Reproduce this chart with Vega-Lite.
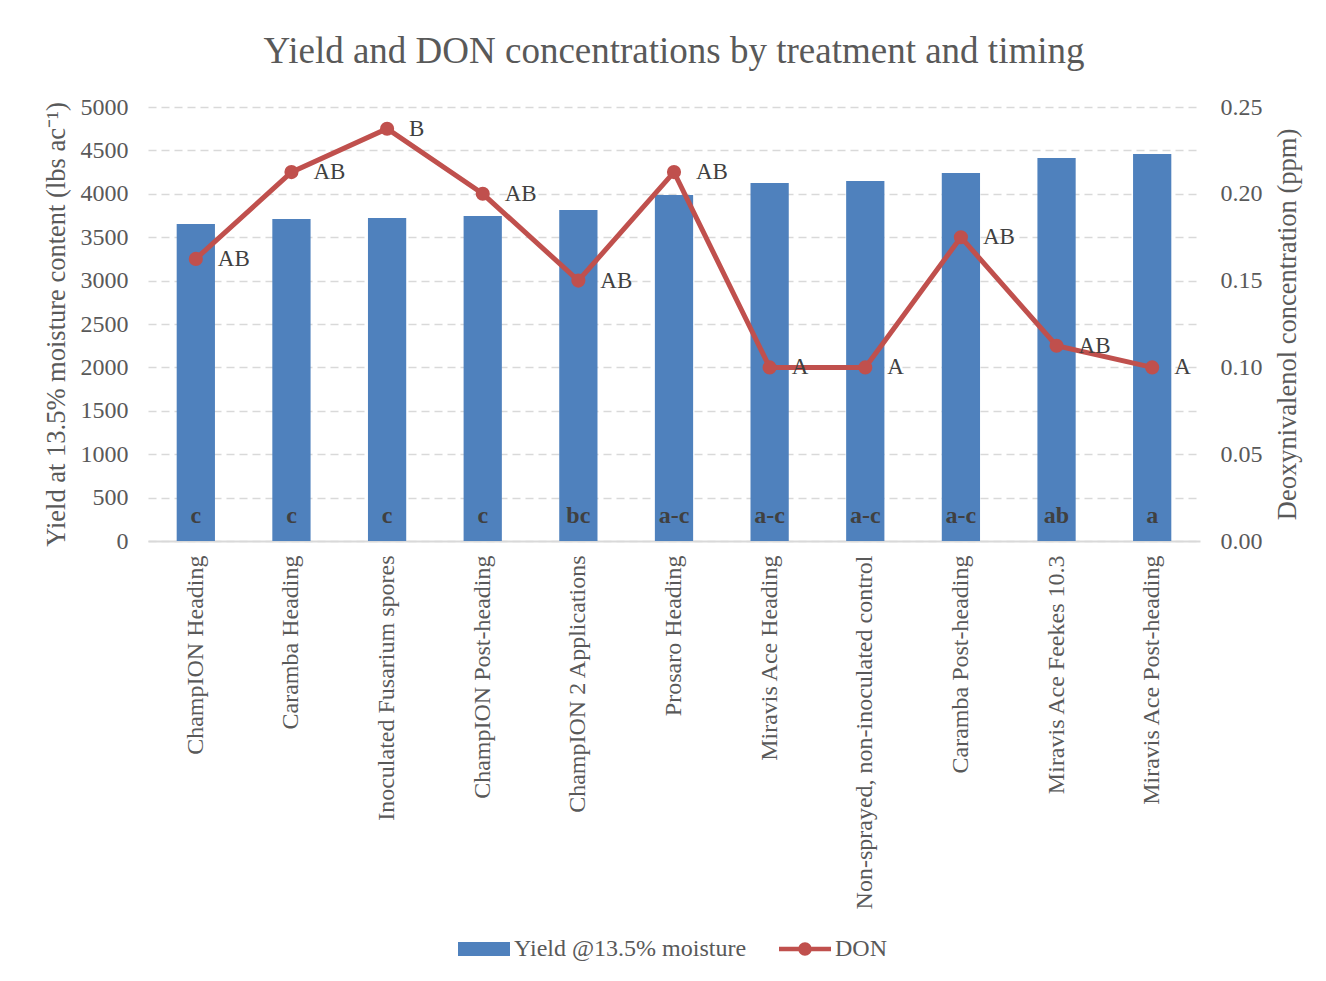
{
  "$schema": "https://vega.github.io/schema/vega-lite/v6.json",
  "autosize": {"type": "none"},
  "width": 1052,
  "height": 434,
  "padding": {"left": 148, "top": 107, "right": 126, "bottom": 440},
  "background": "white",
  "config": {
    "font": "Liberation Serif",
    "view": {"stroke": null},
    "axis": {"labelColor": "#595959", "titleColor": "#595959", "labelFontSize": 24, "titleFontSize": 26.5, "titleFontWeight": "normal", "labelFont": "Liberation Serif", "titleFont": "Liberation Serif"}
  },
  "title": {"text": "Yield and DON concentrations by treatment and timing", "fontSize": 37, "fontWeight": "normal", "color": "#595959", "font": "Liberation Serif", "offset": 24},
  "data": {"values": [
    {"treatment": "ChampION Heading", "yield": 3652, "don": 0.1625, "yl": "c", "dl": "AB"},
    {"treatment": "Caramba Heading", "yield": 3710, "don": 0.2125, "yl": "c", "dl": "AB"},
    {"treatment": "Inoculated Fusarium spores", "yield": 3721, "don": 0.2375, "yl": "c", "dl": "B"},
    {"treatment": "ChampION Post-heading", "yield": 3744, "don": 0.2, "yl": "c", "dl": "AB"},
    {"treatment": "ChampION 2 Applications", "yield": 3813, "don": 0.15, "yl": "bc", "dl": "AB"},
    {"treatment": "Prosaro Heading", "yield": 3986, "don": 0.2125, "yl": "a-c", "dl": "AB"},
    {"treatment": "Miravis Ace Heading", "yield": 4124, "don": 0.1, "yl": "a-c", "dl": "A"},
    {"treatment": "Non-sprayed, non-inoculated control", "yield": 4147, "don": 0.1, "yl": "a-c", "dl": "A"},
    {"treatment": "Caramba Post-heading", "yield": 4240, "don": 0.175, "yl": "a-c", "dl": "AB"},
    {"treatment": "Miravis Ace Feekes 10.3", "yield": 4412, "don": 0.1125, "yl": "ab", "dl": "AB"},
    {"treatment": "Miravis Ace Post-heading", "yield": 4459, "don": 0.1, "yl": "a", "dl": "A"}
  ]},
  "encoding": {
    "x": {"field": "treatment", "type": "nominal", "sort": null,
      "scale": {"paddingInner": 0.6, "paddingOuter": 0.3},
      "axis": {"title": null, "labelAngle": -90, "labelAlign": "right", "labelBaseline": "middle", "labelPadding": 14, "labelLimit": 500, "ticks": false, "domainColor": "#d9d9d9", "domainWidth": 2}}
  },
  "layer": [
    {
      "layer": [
        {
          "mark": {"type": "bar"},
          "encoding": {
            "y": {"field": "yield", "type": "quantitative",
              "scale": {"domain": [0, 5000], "nice": false},
              "axis": {"title": "Yield at 13.5% moisture content (lbs ac⁻¹)", "format": "d", "values": [0,500,1000,1500,2000,2500,3000,3500,4000,4500,5000], "domain": false, "ticks": false, "labelPadding": 20, "titlePadding": 10, "grid": true, "gridColor": "#d9d9d9", "gridDash": [8, 5], "gridWidth": 1.5}},
            "color": {"datum": "Yield @13.5% moisture", "type": "nominal",
              "scale": {"domain": ["Yield @13.5% moisture", "DON"], "range": ["#4F81BD", "#C0504D"]},
              "legend": {"title": null, "orient": "none", "legendX": 310, "legendY": 816, "direction": "horizontal", "labelFontSize": 24, "labelColor": "#595959", "labelFont": "Liberation Serif", "labelLimit": 400, "columnPadding": 32, "labelOffset": 4,
                "symbolType": "M-1,-0.27H1V0.27H-1Z", "symbolSize": 2704, "symbolStrokeWidth": 0,
                "encode": {"symbols": {"update": {"shape": {"signal": "datum.label === 'DON' ? 'M-1,-0.09H1V0.09H-1Z M-0.26,0A0.26,0.26 0 1,1 0.26,0A0.26,0.26 0 1,1 -0.26,0Z' : 'M-1,-0.27H1V0.27H-1Z'"}, "fill": {"scale": "color", "field": "value"}, "strokeWidth": {"value": 0}, "opacity": {"value": 1}}}}}}
          }
        },
        {
          "mark": {"type": "text", "fontWeight": "bold", "fontSize": 24, "color": "#404040", "dy": -25, "baseline": "middle"},
          "encoding": {
            "y": {"datum": 0, "type": "quantitative", "scale": {"domain": [0, 5000], "nice": false}},
            "text": {"field": "yl"}
          }
        }
      ]
    },
    {
      "layer": [
        {
          "mark": {"type": "line", "strokeWidth": 5, "point": {"size": 200, "filled": true, "color": "#C0504D"}},
          "encoding": {
            "y": {"field": "don", "type": "quantitative",
              "scale": {"domain": [0, 0.25], "nice": false},
              "axis": {"orient": "right", "title": "Deoxynivalenol concentration (ppm)", "format": ".2f", "values": [0, 0.05, 0.1, 0.15, 0.2, 0.25], "domain": false, "ticks": false, "grid": false, "labelPadding": 20, "titlePadding": 12, "titleAngle": 270, "titleBaseline": "top"}},
            "color": {"datum": "DON", "type": "nominal"}
          }
        },
        {
          "mark": {"type": "text", "fontSize": 23, "color": "#404040", "dx": 22, "align": "left", "baseline": "middle"},
          "encoding": {
            "y": {"field": "don", "type": "quantitative", "scale": {"domain": [0, 0.25], "nice": false}},
            "text": {"field": "dl"}
          }
        }
      ]
    }
  ],
  "resolve": {"scale": {"y": "independent"}}
}
